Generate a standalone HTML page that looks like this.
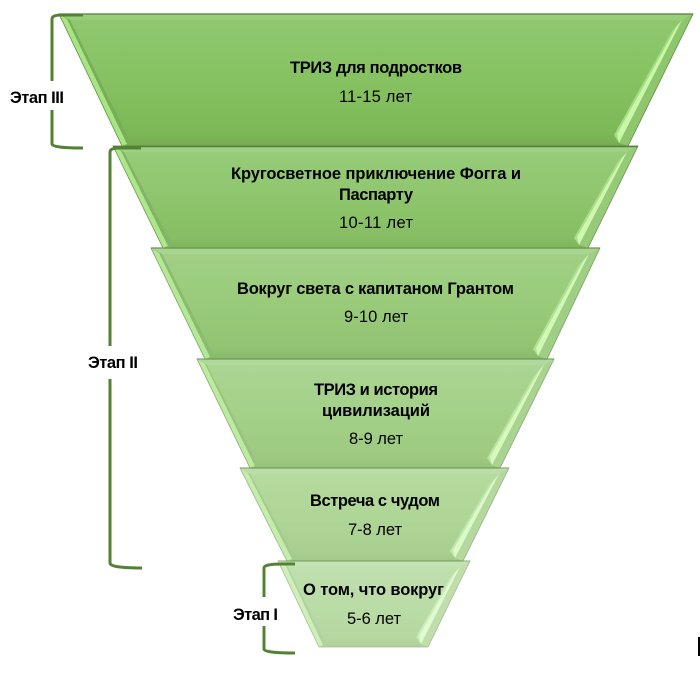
<!DOCTYPE html>
<html lang="ru">
<head>
<meta charset="utf-8">
<title>Этапы</title>
<style>
html,body{margin:0;padding:0;background:#fff;width:700px;height:676px;overflow:hidden}
svg{display:block}
text{font-family:"Liberation Sans","DejaVu Sans",sans-serif;fill:#000;text-anchor:middle}
.b{font-weight:bold;font-size:16.5px}
.r{font-size:16.5px}
.face{fill:url(#face)}
.top{fill:#98cd7a}
.ls{fill:#78ae59}
.ll{fill:#a6e57f}
.rs{fill:#8ec56d}
.hs{fill:#a3dc82}
.hb{fill:#c9f8a8}
.edge{fill:none;stroke:#5f8f45;stroke-width:.8}
.tl{stroke:#557f3d;stroke-width:1.3}
.br{fill:none;stroke:#548235;stroke-width:3}
</style>
</head>
<body>
<svg xmlns="http://www.w3.org/2000/svg" width="700" height="676" viewBox="0 0 700 676">
<defs>
<linearGradient id="face" x1="0" y1="0" x2="0" y2="1">
<stop offset="0" stop-color="#90c871"/>
<stop offset=".5" stop-color="#86c261"/>
<stop offset=".9" stop-color="#7db857"/>
<stop offset="1" stop-color="#74ad50"/>
</linearGradient>
</defs>

<g opacity=".56">
<polygon class="face" points="278,561 470,561 428,647 319,647"/>
<polygon class="top" points="278,561 470,561 460,567 288,567"/>
<polygon class="ls" points="278,561 288,567 326,644 319,647"/>
<polygon class="ll" points="278,561 286,566 323,645 319,647"/>
<polygon class="rs" points="470,561 460,567 421,644 428,647"/>
<polygon class="hs" points="460,567 421,644 416,637 450,578"/>
<polygon class="hb" points="460,567 421,644 419,636 455,573"/>
<polygon class="edge" points="278,561 470,561 428,647 319,647"/>
<line class="tl" x1="278" y1="561" x2="470" y2="561"/>
</g>
<g opacity=".66">
<polygon class="face" points="240,468 509,468 463,561 287,561"/>
<polygon class="top" points="240,468 509,468 499,474 250,474"/>
<polygon class="ls" points="240,468 250,474 295,558 287,561"/>
<polygon class="ll" points="240,468 248,473 292,559 287,561"/>
<polygon class="rs" points="509,468 499,474 455,558 463,561"/>
<polygon class="hs" points="499,474 455,558 450,551 489,485"/>
<polygon class="hb" points="499,474 455,558 453,550 494,480"/>
<polygon class="edge" points="240,468 509,468 463,561 287,561"/>
<line class="tl" x1="240" y1="468" x2="509" y2="468"/>
</g>
<g opacity=".75">
<polygon class="face" points="197,359 554,359 500,468 250,468"/>
<polygon class="top" points="197,359 554,359 544,365 207,365"/>
<polygon class="ls" points="197,359 207,365 258,465 250,468"/>
<polygon class="ll" points="197,359 205,364 255,466 250,468"/>
<polygon class="rs" points="554,359 544,365 492,465 500,468"/>
<polygon class="hs" points="544,365 492,465 487,458 534,376"/>
<polygon class="hb" points="544,365 492,465 490,457 539,371"/>
<polygon class="edge" points="197,359 554,359 500,468 250,468"/>
<line class="tl" x1="197" y1="359" x2="554" y2="359"/>
</g>
<g opacity=".84">
<polygon class="face" points="151,248 600,248 547,359 205,359"/>
<polygon class="top" points="151,248 600,248 589,254 162,254"/>
<polygon class="ls" points="151,248 162,254 214,356 205,359"/>
<polygon class="ll" points="151,248 159,253 210,357 205,359"/>
<polygon class="rs" points="600,248 589,254 538,356 547,359"/>
<polygon class="hs" points="589,254 538,356 533,349 579,265"/>
<polygon class="hb" points="589,254 538,356 536,348 584,260"/>
<polygon class="edge" points="151,248 600,248 547,359 205,359"/>
<line class="tl" x1="151" y1="248" x2="600" y2="248"/>
</g>
<g opacity=".92">
<polygon class="face" points="113,146 638,146 588,248 163,248"/>
<polygon class="top" points="113,146 638,146 627,152 124,152"/>
<polygon class="ls" points="113,146 124,152 172,245 163,248"/>
<polygon class="ll" points="113,146 121,151 168,246 163,248"/>
<polygon class="rs" points="638,146 627,152 579,245 588,248"/>
<polygon class="hs" points="627,152 579,245 574,238 617,163"/>
<polygon class="hb" points="627,152 579,245 577,237 622,158"/>
<polygon class="edge" points="113,146 638,146 588,248 163,248"/>
</g>
<g>
<polygon class="face" points="59,14 693,14 628,146 122,146"/>
<polygon class="top" points="59,14 693,14 682,20 70,20"/>
<polygon class="ls" points="59,14 70,20 131,143 122,146"/>
<polygon class="ll" points="59,14 67,19 127,144 122,146"/>
<polygon class="rs" points="693,14 682,20 619,143 628,146"/>
<polygon class="hs" points="682,20 619,143 614,135 672,31"/>
<polygon class="hb" points="682,20 619,143 617,134 677,26"/>
<polygon class="edge" points="59,14 693,14 628,146 122,146"/>
<line class="tl" x1="59" y1="14" x2="693" y2="14"/>
</g>
<line x1="113" y1="146.500" x2="638" y2="146.500" stroke="#557f3d" stroke-width="1.4"/>

<path class="br" d="M83,15 H62 Q52,15 52,19 V81 M52,110 V144 Q52,148 83,148"/>
<path class="br" d="M141,148 H120 Q110,148 110,152 V346 M110,379 V563 Q110,568 142,568"/>
<path class="br" d="M295,564 H282 Q264,564 264,568 V597 M264,626 V649 Q264,653 295,653"/>
<rect x="698" y="637" width="2" height="19" fill="#000"/>

<text class="b" x="376" y="73" textLength="172">ТРИЗ для подростков</text>
<text class="r" x="375.500" y="102" textLength="73">11-15 лет</text>
<text class="b" x="376" y="179" textLength="290">Кругосветное приключение Фогга и</text>
<text class="b" x="376" y="200" textLength="74">Паспарту</text>
<text class="r" x="376" y="228" textLength="74">10-11 лет</text>
<text class="b" x="375.500" y="294" textLength="277">Вокруг света с капитаном Грантом</text>
<text class="r" x="376" y="322" textLength="64">9-10 лет</text>
<text class="b" x="376" y="395" textLength="124">ТРИЗ и история</text>
<text class="b" x="376" y="416" textLength="108">цивилизаций</text>
<text class="r" x="376" y="444" textLength="54">8-9 лет</text>
<text class="b" x="375" y="506" textLength="130">Встреча с чудом</text>
<text class="r" x="375" y="535" textLength="54">7-8 лет</text>
<text class="b" x="373.500" y="595" textLength="141">О том, что вокруг</text>
<text class="r" x="374" y="624" textLength="54">5-6 лет</text>
<text class="b" x="37" y="103" textLength="54">Этап III</text>
<text class="b" x="113" y="368" textLength="50">Этап II</text>
<text class="b" x="255.500" y="620" textLength="45">Этап I</text>
</svg>
</body>
</html>
